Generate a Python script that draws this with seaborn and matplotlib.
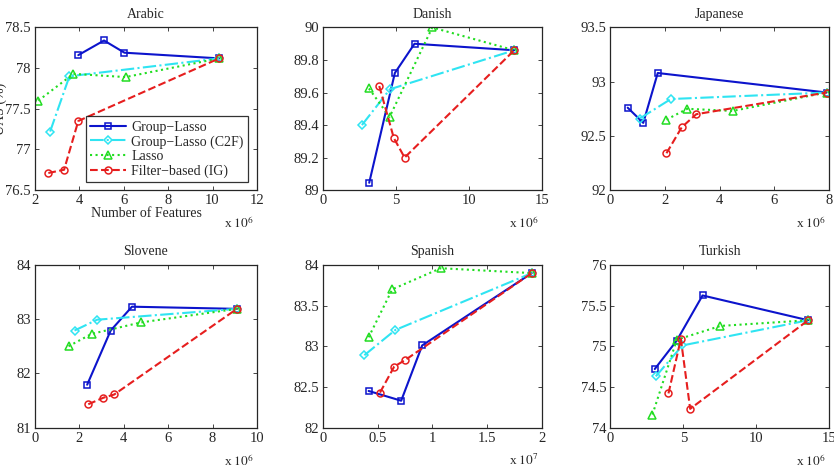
import numpy as np
import pandas as pd
import matplotlib
matplotlib.use("Agg")
import matplotlib.pyplot as plt
import seaborn as sns
from matplotlib.ticker import FuncFormatter

sns.set_style("ticks")
plt.rcParams['font.family'] = ['Liberation Serif', 'DejaVu Serif']
plt.rcParams['mathtext.fontset'] = 'stix'

# Du lieu doc tu hinh (so dac trung, don vi x 10^6 hoac x 10^7)
methods = ["Group\u2212Lasso", "Group\u2212Lasso (C2F)", "Lasso", "Filter\u2212based (IG)"]

arabic_x = [[3.95, 5.11, 6.03, 10.3], [2.68, 3.55, 10.3], [2.15, 3.73, 6.08, 10.3], [2.6, 3.31, 3.95, 10.3]]
arabic_y = [[78.16, 78.34, 78.19, 78.12], [77.22, 77.90, 78.12], [77.60, 77.93, 77.89, 78.12], [76.71, 76.75, 77.35, 78.12]]

danish_x = [[3.16, 4.92, 6.27, 13.12], [2.66, 4.58, 13.12], [3.14, 4.56, 7.49, 13.12], [3.85, 4.85, 5.59, 13.12]]
danish_y = [[89.045, 89.72, 89.90, 89.86], [89.40, 89.62, 89.86], [89.625, 89.45, 90.0, 89.86], [89.64, 89.32, 89.20, 89.86]]

japanese_x = [[0.63, 1.2, 1.73, 7.91], [1.07, 2.21, 7.91], [2.05, 2.81, 4.47, 7.91], [2.05, 2.61, 3.14, 7.91]]
japanese_y = [[92.76, 92.62, 93.08, 92.90], [92.66, 92.84, 92.90], [92.65, 92.75, 92.73, 92.90], [92.34, 92.58, 92.70, 92.90]]

slovene_x = [[2.35, 3.41, 4.37, 9.1], [1.78, 2.8, 9.1], [1.51, 2.56, 4.78, 9.1], [2.40, 3.08, 3.57, 9.1]]
slovene_y = [[81.79, 82.79, 83.23, 83.19], [82.79, 82.99, 83.19], [82.50, 82.73, 82.94, 83.19], [81.43, 81.55, 81.61, 83.19]]

spanish_x = [[0.416, 0.714, 0.906, 1.909], [0.377, 0.66, 1.909], [0.416, 0.632, 1.076, 1.909], [0.52, 0.65, 0.75, 1.909]]
spanish_y = [[82.45, 82.33, 83.01, 83.90], [82.89, 83.20, 83.90], [83.11, 83.70, 83.96, 83.90], [82.43, 82.75, 82.83, 83.90]]

turkish_x = [[3.04, 4.55, 6.32, 13.57], [3.11, 4.94, 13.57], [2.88, 4.55, 7.55, 13.57], [3.98, 4.83, 5.47, 13.57]]
turkish_y = [[74.72, 75.07, 75.625, 75.32], [74.63, 75.01, 75.32], [74.16, 75.08, 75.25, 75.32], [74.42, 75.09, 74.23, 75.32]]

languages = ["Arabic", "Danish", "Japanese", "Slovene", "Spanish", "Turkish"]
xs = [arabic_x, danish_x, japanese_x, slovene_x, spanish_x, turkish_x]
ys = [arabic_y, danish_y, japanese_y, slovene_y, spanish_y, turkish_y]
exponents = [6, 6, 6, 6, 7, 6]
xlims = [(2, 12), (0, 15), (0, 8), (0, 10), (0, 2), (0, 15)]
xticks = [np.arange(2, 13, 2), [0, 5, 10, 15], np.arange(0, 9, 2), np.arange(0, 11, 2), [0, 0.5, 1, 1.5, 2], [0, 5, 10, 15]]
ylims = [(76.5, 78.5), (89, 90), (92, 93.5), (81, 84), (82, 84), (74, 76)]
yticks = [np.arange(76.5, 78.6, 0.5), np.arange(89, 90.01, 0.2), np.arange(92, 93.6, 0.5),
          np.arange(81, 84.1, 1), np.arange(82, 84.1, 0.5), np.arange(74, 76.1, 0.5)]

# Kieu duong cho tung phuong phap
colors = ['#0c14cc', '#2fe4f2', '#22dd22', '#e61e1e']
linestyles = ['-', '-.', ':', '--']
markers = ['s', 'D', '^', 'o']
msizes = [4.5, 4.5, 6, 5]

fig = plt.figure(figsize=(8.34, 4.74), dpi=100)
lefts = [0.042, 0.3875, 0.732]
widths = [0.266, 0.262, 0.262]
bottoms = [0.599, 0.098]
height = 0.343

tick_fmt = FuncFormatter(lambda v, p: '%g' % round(v, 2))

for i, lang in enumerate(languages):
    r, c = divmod(i, 3)
    ax = fig.add_axes([lefts[c], bottoms[r], widths[c], height])
    for m in range(4):
        df = pd.DataFrame({'x': xs[i][m], 'y': ys[i][m]})
        sns.lineplot(data=df, x='x', y='y', ax=ax, sort=False, estimator=None,
                     color=colors[m], linestyle=linestyles[m], linewidth=1.5,
                     marker=markers[m], markersize=msizes[m], markerfacecolor='none',
                     markeredgecolor=colors[m], markeredgewidth=1.1, label=methods[m])
    ax.set_xlim(*xlims[i])
    ax.set_ylim(*ylims[i])
    ax.set_xticks(xticks[i])
    ax.set_yticks(yticks[i])
    ax.yaxis.set_major_formatter(tick_fmt)
    ax.xaxis.set_major_formatter(tick_fmt)
    ax.tick_params(direction='in', top=True, right=True, labelsize=10.5, length=3, width=0.6, pad=3)
    for s in ax.spines.values():
        s.set_linewidth(0.9)
        s.set_visible(True)
    ax.set_title(lang, fontsize=10, pad=7)
    ax.set_xlabel('')
    ax.set_ylabel('')
    ax.annotate(r'x $10^{%d}$' % exponents[i], xy=(1, 0), xycoords='axes fraction',
                xytext=(-2, -24), textcoords='offset points', ha='right', va='center', fontsize=9.5)
    leg = ax.get_legend()
    if leg is not None:
        leg.remove()
    if i == 0:
        ax.set_xlabel('Number of Features', fontsize=10, labelpad=0)
        ax.set_ylabel('UAS (%)', fontsize=10)
        ax.yaxis.set_label_coords(-0.125, 0.5)
        lg = ax.legend(loc='lower right', bbox_to_anchor=(0.96, 0.05), fontsize=10,
                       frameon=True, fancybox=False, edgecolor='black', handlelength=2.6,
                       borderpad=0.3, labelspacing=0.1, handletextpad=0.4, borderaxespad=0)
        lg.get_frame().set_linewidth(0.9)

plt.savefig('out.png', dpi=100)
